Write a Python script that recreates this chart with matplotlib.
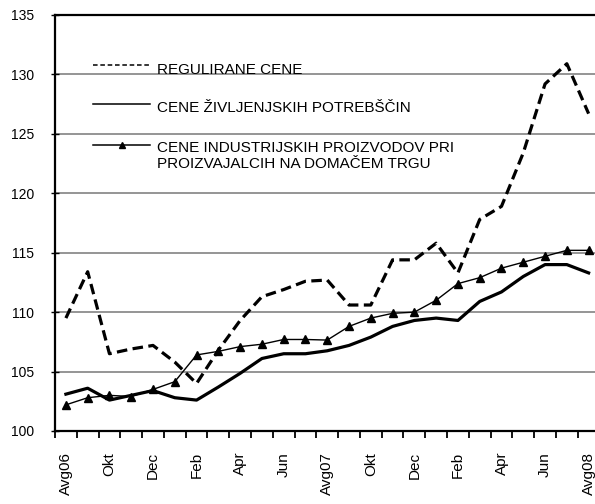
import matplotlib
matplotlib.use("Agg")
import matplotlib.pyplot as plt
from matplotlib.lines import Line2D
import numpy as np

plt.rcParams['font.family'] = ['Liberation Sans', 'DejaVu Sans']

months = ["Avg06", "Sep", "Okt", "Nov", "Dec", "Jan", "Feb", "Mar", "Apr", "Maj", "Jun", "Jul",
          "Avg07", "Sep", "Okt", "Nov", "Dec", "Jan", "Feb", "Mar", "Apr", "Maj", "Jun", "Jul", "Avg08"]

regulirane = [109.5, 113.4, 106.5, 106.9, 107.2, 105.8, 104.0, 106.8, 109.3, 111.3, 111.9, 112.6,
              112.7, 110.6, 110.6, 114.4, 114.4, 115.8, 113.3, 117.8, 118.9, 123.4, 129.2, 130.9, 126.7]

zivljenjske = [103.1, 103.6, 102.6, 103.0, 103.4, 102.8, 102.6, 103.7, 104.85, 106.1, 106.5, 106.5,
               106.75, 107.2, 107.9, 108.8, 109.3, 109.5, 109.3, 110.9, 111.7, 113.0, 114.0, 114.0, 113.3]

industrijske = [102.2, 102.8, 103.0, 102.9, 103.5, 104.15, 106.4, 106.7, 107.1, 107.3, 107.7, 107.7,
                107.65, 108.8, 109.5, 109.9, 110.0, 111.0, 112.4, 112.9, 113.7, 114.2, 114.7, 115.2, 115.2]

labels = ["REGULIRANE CENE", "CENE ŽIVLJENJSKIH POTREBŠČIN",
          "CENE INDUSTRIJSKIH PROIZVODOV PRI", "PROIZVAJALCIH NA DOMAČEM TRGU"]

yticks = [100, 105, 110, 115, 120, 125, 130, 135]

W, H = 595, 504
fig = plt.figure(figsize=(W / 100, H / 100), dpi=100)
ax = fig.add_axes([55 / W, (H - 431) / H, 544.5 / W, 416 / H])

x = np.arange(len(months))

ax.plot(x, regulirane, color='black', lw=2.3, dashes=(3.3, 1.7), zorder=3)
ax.plot(x, zivljenjske, color='black', lw=2.3, solid_joinstyle='round', zorder=3)
ax.plot(x, industrijske, color='black', lw=1.0, marker='^', ms=5.5, zorder=3)

ax.set_xlim(-0.5, len(months) - 0.5)
ax.set_ylim(100, 135)
ax.set_yticks(yticks)
ax.set_yticklabels([str(v) for v in yticks], fontsize=10)
ax.yaxis.grid(True, color='#8c8c8c', lw=1.3)
ax.set_axisbelow(True)

ax.set_xticks(x[::2])
ax.set_xticklabels(months[::2], rotation=90, fontsize=11, va='top', ha='center')
ax.set_xticks(np.arange(-0.5, len(months), 1), minor=True)
ax.tick_params(axis='x', which='major', length=0, pad=15)
ax.tick_params(axis='x', which='minor', length=5, width=1.3, direction='out')
ax.tick_params(axis='y', which='major', length=6, width=1.0, direction='inout', pad=12)

for s in ['left', 'bottom', 'top']:
    ax.spines[s].set_linewidth(1.6)
    ax.spines[s].set_color('black')
ax.spines['right'].set_visible(False)

# legend drawn in axes fraction coordinates
x0, x1, xt = 0.0698, 0.1745, 0.1868
ax.add_line(Line2D([x0, x1], [0.880, 0.880], transform=ax.transAxes, color='black', lw=1.1,
                   dashes=(3, 1.8)))
ax.add_line(Line2D([x0, x1], [0.786, 0.786], transform=ax.transAxes, color='black', lw=1.1))
ax.add_line(Line2D([x0, x1], [0.6875, 0.6875], transform=ax.transAxes, color='black', lw=1.1))
ax.add_line(Line2D([(x0 + x1) / 2], [0.6875], transform=ax.transAxes, color='black',
                   marker='^', ms=4.5, lw=0))
ax.text(xt, 0.8589, labels[0], transform=ax.transAxes, fontsize=11, va='baseline')
ax.text(xt, 0.7661, labels[1], transform=ax.transAxes, fontsize=11, va='baseline')
ax.text(xt, 0.6714, labels[2], transform=ax.transAxes, fontsize=11, va='baseline')
ax.text(xt, 0.6313, labels[3], transform=ax.transAxes, fontsize=11, va='baseline')

fig.savefig("out.png", dpi=100)
